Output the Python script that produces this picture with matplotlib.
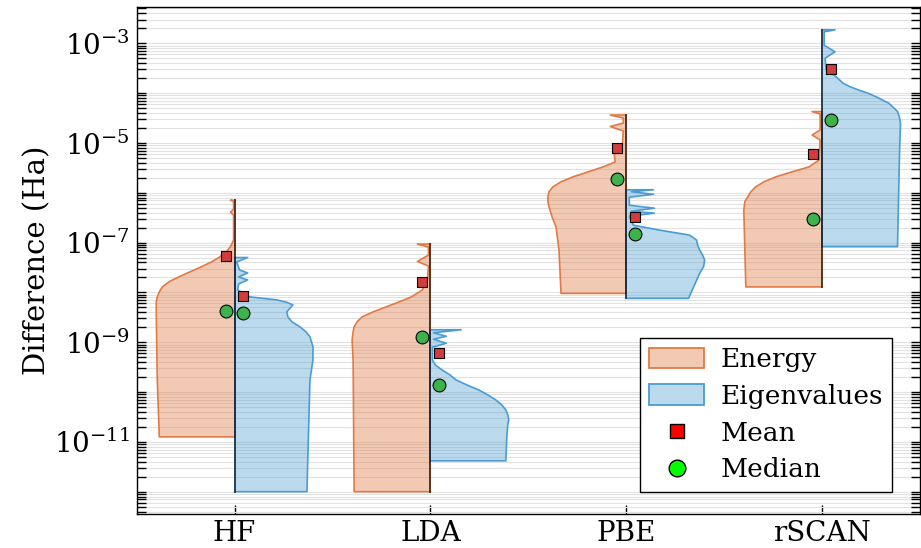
import numpy as np
import matplotlib
matplotlib.use("Agg")
import matplotlib.pyplot as plt
from matplotlib.patches import Patch
from matplotlib.lines import Line2D
from matplotlib.colors import to_rgba
from matplotlib.ticker import FixedLocator, FuncFormatter, NullFormatter

plt.rcParams['font.family'] = ['DejaVu Serif']
plt.rcParams['mathtext.fontset'] = 'dejavuserif'

methods = ['HF', 'LDA', 'PBE', 'rSCAN']

# violin profiles: log10(difference / Ha) and relative density width
hf_energy_logy = [-10.90, -9.76, -8.41, -8.19, -8.09, -7.99, -7.89, -7.78, -7.68, -7.58,
                  -7.48, -7.38, -7.28, -7.18, -7.08, -6.95, -6.45, -6.39, -6.33, -6.17, -6.15]
hf_energy_dens = [74, 76, 77, 77, 76, 74, 71, 64, 54, 43, 32, 22, 14, 8, 4, 1, 1, 4, 1, 1, 4]
hf_eig_logy = [-12.0, -9.76, -9.36, -9.09, -8.89, -8.79, -8.69, -8.59, -8.49, -8.39, -8.25,
               -8.20, -8.15, -8.09, -7.95, -7.83, -7.75, -7.69, -7.61, -7.55, -7.39, -7.30]
hf_eig_dens = [72, 75, 78, 78, 75, 71, 65, 57, 53, 52, 58, 52, 42, 15, 3, 4, 13, 4, 13, 5, 2, 13]

lda_energy_logy = [-12.0, -9.36, -8.96, -8.79, -8.69, -8.59, -8.49, -8.39, -8.29, -8.19,
                   -8.09, -7.95, -7.75, -7.47, -7.38, -7.25, -7.09, -7.03]
lda_energy_dens = [76, 77, 78, 77, 76, 73, 68, 57, 44, 31, 19, 8, 3, 2, 13, 2, 2, 13]
lda_eig_logy = [-11.38, -10.90, -10.65, -10.56, -10.46, -10.36, -10.26, -10.16, -10.06,
                -9.96, -9.86, -9.76, -9.66, -9.56, -9.46, -9.36, -9.10, -9.02, -8.94,
                -8.88, -8.81, -8.75]
lda_eig_dens = [76, 77, 78, 79, 78, 76, 72, 66, 58, 49, 37, 26, 20, 12, 5, 2, 2, 16, 3, 16, 3, 31]

pbe_energy_logy = [-8.02, -7.15, -6.68, -6.48, -6.28, -6.18, -6.08, -5.98, -5.88, -5.78,
                   -5.68, -5.58, -5.48, -5.38, -5.24, -5.04, -4.76, -4.67, -4.60, -4.50, -4.44]
pbe_energy_dens = [65, 67, 70, 74, 77, 78, 78, 77, 73, 65, 53, 38, 23, 11, 12, 4, 3, 16, 3, 3, 16]
pbe_eig_logy = [-8.12, -7.89, -7.62, -7.48, -7.35, -7.25, -7.15, -7.05, -6.95, -6.85,
                -6.75, -6.65, -6.47, -6.41, -6.37, -6.31, -6.25, -6.09, -6.03, -5.98, -5.94]
pbe_eig_dens = [62, 67, 73, 77, 78, 76, 73, 71, 70, 63, 33, 7, 3, 28, 5, 28, 3, 3, 27, 5, 27]

rscan_energy_logy = [-7.89, -6.35, -6.18, -6.08, -5.98, -5.88, -5.78, -5.68, -5.58, -5.48,
                     -5.34, -4.94, -4.84, -4.74, -4.42, -4.37]
rscan_energy_dens = [76, 78, 77, 74, 71, 66, 58, 46, 30, 13, 3, 2, 10, 2, 2, 10]
rscan_eig_logy = [-7.08, -5.20, -4.61, -4.49, -4.37, -4.29, -4.20, -4.14, -4.07, -4.00,
                  -3.94, -3.87, -3.80, -3.67, -3.53, -3.30, -3.17, -3.04, -2.77, -2.73]
rscan_eig_dens = [76, 78, 79, 78, 76, 72, 67, 61, 54, 46, 37, 28, 21, 14, 4, 3, 13, 2, 2, 13]

energy_profiles = [(hf_energy_logy, hf_energy_dens), (lda_energy_logy, lda_energy_dens),
                   (pbe_energy_logy, pbe_energy_dens), (rscan_energy_logy, rscan_energy_dens)]
eig_profiles = [(hf_eig_logy, hf_eig_dens), (lda_eig_logy, lda_eig_dens),
                (pbe_eig_logy, pbe_eig_dens), (rscan_eig_logy, rscan_eig_dens)]

# log10 of mean / median differences
energy_mean = [-7.26, -7.80, -5.11, -5.23]
energy_median = [-8.37, -8.90, -5.73, -6.53]
eig_mean = [-8.07, -9.21, -6.48, -3.52]
eig_median = [-8.42, -9.86, -6.83, -4.53]

decades = list(range(-12, -2))

orange = '#e07b45'
blue = '#4b9cd3'
half_width = 0.40
offset = 0.045

fig = plt.figure(figsize=(9.21, 5.48), dpi=100)
ax = fig.add_axes([0.1484, 0.0615, 0.8506, 0.9263])
ax.set_yscale('log')
ax.set_xlim(0.5, 4.5)
ax.set_ylim(10**-12.454, 10**-2.265)

x = np.arange(1, len(methods) + 1)


def half_violin(ax, c, logy, dens, side, color, alpha, center_color):
    y = 10 ** np.asarray(logy, dtype=float)
    w = np.asarray(dens, dtype=float)
    w = w / w.max() * half_width * side
    ax.fill_betweenx(y, c, c + w, facecolor=color, alpha=alpha, linewidth=0, zorder=2)
    xs = np.concatenate([[c], c + w, [c]])
    ys = np.concatenate([[y[0]], y, [y[-1]]])
    ax.plot(xs, ys, color=color, lw=1.2, zorder=3)
    ax.plot([c, c], [y[0], y[-1]], color=center_color, lw=1.3, zorder=4)


for i, c in enumerate(x):
    half_violin(ax, c, *energy_profiles[i], -1, orange, 0.4, '#4a2410')
    half_violin(ax, c, *eig_profiles[i], 1, blue, 0.37, '#17324a')

ax.scatter(x - offset, 10 ** np.array(energy_mean), marker='s', s=62, color='#d23c3c',
           edgecolor='black', linewidth=0.8, zorder=5)
ax.scatter(x + offset, 10 ** np.array(eig_mean), marker='s', s=62, color='#d23c3c',
           edgecolor='black', linewidth=0.8, zorder=5)
ax.scatter(x - offset, 10 ** np.array(energy_median), marker='o', s=85, color='#3cb44b',
           edgecolor='black', linewidth=0.8, zorder=5)
ax.scatter(x + offset, 10 ** np.array(eig_median), marker='o', s=85, color='#3cb44b',
           edgecolor='black', linewidth=0.8, zorder=5)

# axes styling
ax.set_xticks(x)
ax.set_xticklabels(methods, fontsize=20)
ax.yaxis.set_major_locator(FixedLocator([10.0 ** d for d in decades]))
ax.yaxis.set_minor_locator(FixedLocator([m * 10.0 ** d for d in range(-13, -2)
                                         for m in range(2, 10)]))


def odd_decades(v, pos):
    e = int(round(np.log10(v)))
    return r'$10^{%d}$' % e if e % 2 else ''


ax.yaxis.set_major_formatter(FuncFormatter(odd_decades))
ax.yaxis.set_minor_formatter(NullFormatter())
ax.set_ylim(10**-12.454, 10**-2.265)
ax.tick_params(axis='y', which='both', direction='in', left=True, right=True,
               labelsize=20, length=6.5, width=1, pad=5)
ax.tick_params(axis='x', direction='in', length=6.5, width=1, pad=4)
ax.grid(axis='y', which='both', color='#e2e2e2', lw=0.8, zorder=0)
ax.set_axisbelow(True)
for s in ax.spines.values():
    s.set_linewidth(1)
ax.set_ylabel('Difference (Ha)', fontsize=21, labelpad=2)

handles = [Patch(facecolor=to_rgba(orange, 0.4), edgecolor=orange, lw=1.3),
           Patch(facecolor=to_rgba(blue, 0.37), edgecolor=blue, lw=1.3),
           Line2D([], [], ls='', marker='s', ms=10, mfc='red', mec='black'),
           Line2D([], [], ls='', marker='o', ms=12, mfc='lime', mec='black')]
leg = ax.legend(handles, ['Energy', 'Eigenvalues', 'Mean', 'Median'], loc='lower right',
                bbox_to_anchor=(0.964, 0.0445), borderaxespad=0, fontsize=19,
                fancybox=False, framealpha=1, edgecolor='black', handlelength=2.1,
                handleheight=0.8, labelspacing=0.45, borderpad=0.35, handletextpad=0.6)
leg.get_frame().set_linewidth(1)

plt.savefig('out.png', dpi=100)
